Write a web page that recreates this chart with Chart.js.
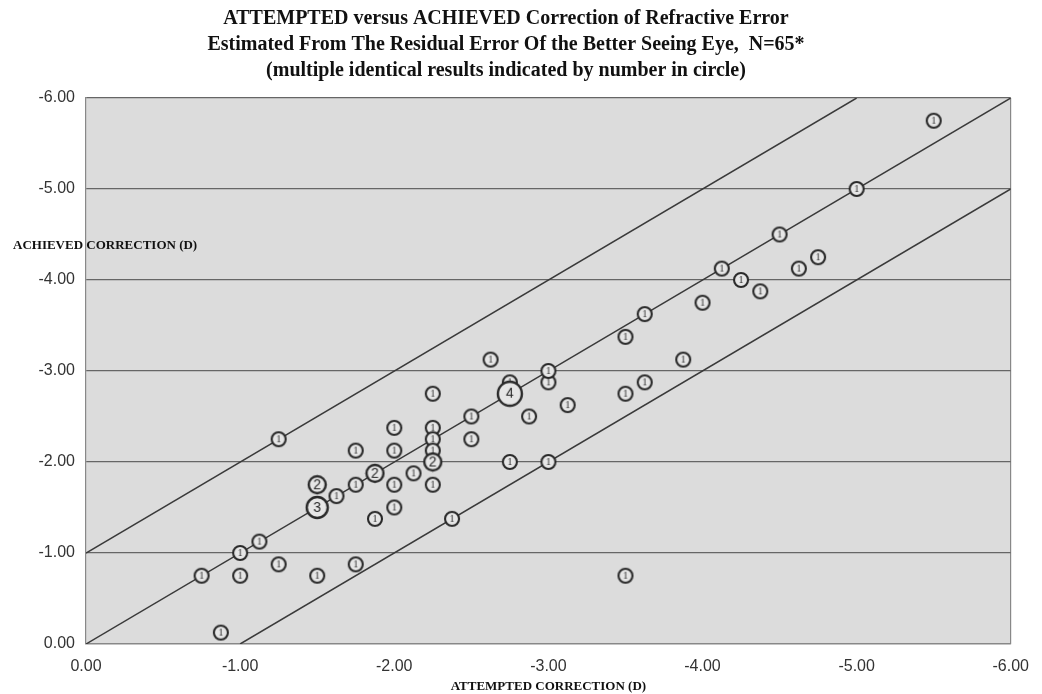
<!DOCTYPE html>
<html>
<head>
<meta charset="utf-8">
<script src="https://cdn.jsdelivr.net/npm/chart.js@4.4.1/dist/chart.umd.min.js"></script>
<style>
  body { margin: 0; background: #fff; }
  #wrap { width: 1042px; height: 694px; position: relative; }
</style>
</head>
<body>
<div id="wrap"><canvas id="refChart"></canvas></div>
<script>
// attempted / achieved correction (D) of each plotted circle, and how many results share it
const attempted = [
    -0.75, -1, -1.125, -1, -1.25, -0.875, -1.25, -1.5, -1.75, -1.5,
    -1.5, -1.625, -1.75, -1.75, -1.875, -1.875, -2, -2, -2, -2,
    -2.125, -2.25, -2.25, -2.25, -2.25, -2.25, -2.25, -2.375, -2.5, -2.5,
    -2.625, -2.75, -2.75, -2.75, -2.875, -3, -3, -3, -3.125, -3.5,
    -3.5, -3.5, -3.625, -3.625, -3.875, -4, -4.125, -4.25, -4.375, -4.5,
    -4.625, -4.75, -5, -5.5
];
const achieved = [
    -0.75, -1, -1.125, -0.75, -0.875, -0.125, -2.25, -0.75, -0.875, -1.5,
    -1.75, -1.625, -1.75, -2.125, -1.375, -1.875, -1.5, -1.75, -2.125, -2.375,
    -1.875, -1.75, -2.375, -2.25, -2.125, -2, -2.75, -1.375, -2.25, -2.5,
    -3.125, -2, -2.875, -2.75, -2.5, -2, -2.875, -3, -2.625, -0.75,
    -2.75, -3.375, -2.875, -3.625, -3.125, -3.75, -4.125, -4, -3.875, -4.5,
    -4.125, -4.25, -5, -5.75
];
const counts = [
    1, 1, 1, 1, 1, 1, 1, 1, 1, 3,
    2, 1, 1, 1, 1, 2, 1, 1, 1, 1,
    1, 1, 1, 1, 1, 2, 1, 1, 1, 1,
    1, 1, 1, 4, 1, 1, 1, 1, 1, 1,
    1, 1, 1, 1, 1, 1, 1, 1, 1, 1,
    1, 1, 1, 1
];

// reference lines: perfect correction and +/- 1.00 D
const perfectX = [0, -6];
const perfectY = [0, -6];
const overX = [0, -5];
const overY = [-1, -6];
const underX = [-1, -6];
const underY = [0, -5];

const tickValues = [0, -1, -2, -3, -4, -5, -6];

const titleLines = [
    'ATTEMPTED versus ACHIEVED Correction of Refractive Error',
    'Estimated From The Residual Error Of the Better Seeing Eye,  N=65*',
    '(multiple identical results indicated by number in circle)'
];
const xTitle = 'ATTEMPTED CORRECTION (D)';
const yTitle = 'ACHIEVED CORRECTION (D)';

const PLOT_BG = '#dcdcdc';
const INK = '#2a2a2a';

function toPoints(xs, ys) {
    return xs.map((x, i) => ({ x: x, y: ys[i] }));
}

// little circle with the count written inside, used as point style
const circleSize = { 1: 7, 2: 8.5, 3: 10.5, 4: 12 };
const circleIcons = {};
[1, 2, 3, 4].forEach(n => {
    const r = circleSize[n];
    const c = document.createElement('canvas');
    const s = Math.ceil(r * 2 + 4);
    c.width = s;
    c.height = s;
    const g = c.getContext('2d');
    g.beginPath();
    g.arc(s / 2, s / 2, r, 0, Math.PI * 2);
    g.fillStyle = '#e6e6e6';
    g.fill();
    g.lineWidth = n === 1 ? 2.1 : 2.4;
    g.strokeStyle = INK;
    g.stroke();
    g.fillStyle = INK;
    g.textAlign = 'center';
    g.textBaseline = 'middle';
    g.font = n === 1 ? '10px "Liberation Serif"' : '14px "Liberation Sans"';
    g.fillText(String(n), s / 2, s / 2 + 0.5);
    circleIcons[n] = c;
});

const plotBackground = {
    id: 'plotBackground',
    beforeDraw(chart) {
        const { ctx, chartArea: a } = chart;
        ctx.save();
        ctx.fillStyle = '#fff';
        ctx.fillRect(0, 0, chart.width, chart.height);
        ctx.fillStyle = PLOT_BG;
        ctx.fillRect(a.left, a.top, a.right - a.left, a.bottom - a.top);
        ctx.restore();
    }
};

// the y axis title sits level, over the top left of the plot
const levelYTitle = {
    id: 'levelYTitle',
    afterDraw(chart) {
        const { ctx } = chart;
        const y = chart.scales.y.getPixelForValue(-4.38);
        ctx.save();
        ctx.font = 'bold 13px "Liberation Serif"';
        ctx.fillStyle = '#111';
        ctx.textAlign = 'left';
        ctx.textBaseline = 'middle';
        ctx.fillText(yTitle, 13, y);
        ctx.restore();
    }
};

const tickFont = { family: '"Liberation Sans"', size: 16 };

new Chart(document.getElementById('refChart'), {
    type: 'scatter',
    data: {
        datasets: [{
            label: 'results',
            data: toPoints(attempted, achieved),
            pointStyle: ctx => circleIcons[counts[ctx.dataIndex]] || 'circle',
            pointRadius: ctx => circleSize[counts[ctx.dataIndex]] || 6,
            order: 0
        }, {
            type: 'line',
            label: 'perfect',
            data: toPoints(perfectX, perfectY),
            borderColor: '#3a3a3a',
            borderWidth: 1.5,
            pointRadius: 0,
            order: 1
        }, {
            type: 'line',
            label: 'plus one',
            data: toPoints(overX, overY),
            borderColor: '#3a3a3a',
            borderWidth: 1.5,
            pointRadius: 0,
            order: 1
        }, {
            type: 'line',
            label: 'minus one',
            data: toPoints(underX, underY),
            borderColor: '#3a3a3a',
            borderWidth: 1.5,
            pointRadius: 0,
            order: 1
        }]
    },
    options: {
        responsive: true,
        maintainAspectRatio: false,
        animation: false,
        layout: { padding: { left: 0, right: 30, top: 0, bottom: 0 } },
        plugins: {
            legend: { display: false },
            tooltip: { enabled: false },
            title: {
                display: true,
                text: titleLines,
                color: '#111',
                font: { family: '"Liberation Serif"', size: 20, weight: 'bold', lineHeight: 1.3 },
                padding: { top: 6, bottom: 14 }
            }
        },
        scales: {
            x: {
                type: 'linear',
                min: -6,
                max: 0,
                reverse: true,
                afterBuildTicks: s => { s.ticks = tickValues.map(v => ({ value: v })); },
                afterFit: s => { s.height = 50; },
                ticks: {
                    callback: v => v.toFixed(2),
                    font: tickFont,
                    color: '#333',
                    padding: 13,
                    maxRotation: 0,
                    autoSkip: false
                },
                grid: {
                    drawTicks: false,
                    color: ctx => (ctx.tick && ctx.tick.value === -6) ? '#888' : 'rgba(0,0,0,0)',
                    lineWidth: 1.2
                },
                border: { display: true, color: '#888', width: 1.2 },
                title: {
                    display: true,
                    text: xTitle,
                    color: '#111',
                    font: { family: '"Liberation Serif"', size: 13, weight: 'bold' },
                    padding: { top: 0, bottom: 0 }
                }
            },
            y: {
                type: 'linear',
                min: -6,
                max: 0,
                reverse: true,
                afterBuildTicks: s => { s.ticks = tickValues.map(v => ({ value: v })); },
                afterFit: s => { s.width = 86; },
                ticks: {
                    callback: v => v.toFixed(2),
                    font: tickFont,
                    color: '#333',
                    padding: 11
                },
                grid: {
                    drawTicks: false,
                    color: '#666',
                    lineWidth: 1.3
                },
                border: { display: true, color: '#888', width: 1.2 }
            }
        }
    },
    plugins: [plotBackground, levelYTitle]
});
</script>
</body>
</html>
